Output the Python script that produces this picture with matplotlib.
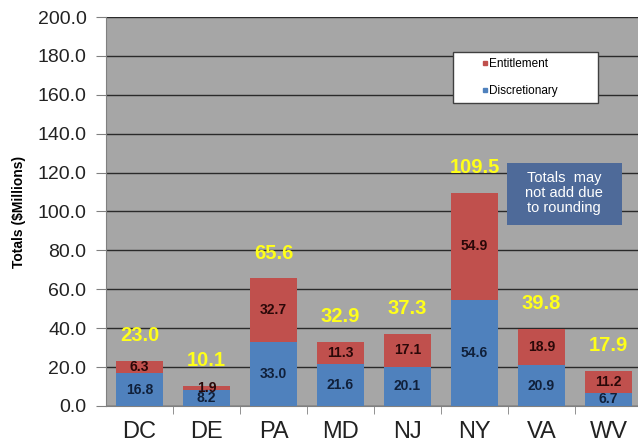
import matplotlib.pyplot as plt
from matplotlib.lines import Line2D
from matplotlib.patches import Rectangle

states = ['DC', 'DE', 'PA', 'MD', 'NJ', 'NY', 'VA', 'WV']
discretionary = [16.8, 8.2, 33.0, 21.6, 20.1, 54.6, 20.9, 6.7]
entitlement = [6.3, 1.9, 32.7, 11.3, 17.1, 54.9, 18.9, 11.2]
totals = [23.0, 10.1, 65.6, 32.9, 37.3, 109.5, 39.8, 17.9]

plt.rcParams['font.family'] = ['Liberation Sans', 'DejaVu Sans']

blue = '#4F81BD'
red = '#C0504D'

fig = plt.figure(figsize=(6.38, 4.48), dpi=100)
ax = fig.add_axes([0.166, 0.094, 0.834, 0.868])
ax.set_facecolor('#A6A6A6')

x = list(range(len(states)))
ax.bar(x, discretionary, width=0.7, color=blue, zorder=3)
ax.bar(x, entitlement, width=0.7, bottom=discretionary, color=red, zorder=3)

# segment values and yellow totals
for i in x:
    d, e = discretionary[i], entitlement[i]
    ax.text(i, d / 2, f'{d:.1f}', ha='center', va='center', fontsize=10,
            fontweight='bold', color='#10203a', zorder=4)
    ax.text(i, d + e / 2, f'{e:.1f}', ha='center', va='center', fontsize=10,
            fontweight='bold', color='#2a0808', zorder=4)
    ax.text(i, totals[i] + 13, f'{totals[i]:.1f}', ha='center', va='center',
            fontsize=14.5, fontweight='bold', color='#FFFF1A', zorder=4)

ax.set_ylim(0, 200)
ax.set_yticks(range(0, 201, 20))
ax.set_yticklabels([f'{v:.1f}' for v in range(0, 201, 20)], fontsize=14,
                   color='#222222')
ax.yaxis.grid(True, color='#2a2a2a', linewidth=1.0, zorder=1)
ax.set_axisbelow(True)

ax.set_xlim(-0.5, 7.44)
ax.set_xticks(x)
ax.set_xticklabels(states, fontsize=17, color='#222222')
ax.tick_params(axis='x', which='major', length=0, pad=11)
ax.set_xticks([i + 0.5 for i in x[:-1]], minor=True)
ax.tick_params(axis='x', which='minor', length=6, color='#808080')
ax.tick_params(axis='y', length=7, color='#808080', pad=7)

for s in ['top', 'right']:
    ax.spines[s].set_visible(False)
for s in ['left', 'bottom']:
    ax.spines[s].set_color('#808080')

ax.set_ylabel('Totals ($Millions)', fontsize=10, fontweight='bold', labelpad=8)

handles = [
    Line2D([], [], marker='s', linestyle='', color=red, markersize=3),
    Line2D([], [], marker='s', linestyle='', color=blue, markersize=3),
]
leg = ax.legend(handles, ['Entitlement', 'Discretionary'], loc='upper left',
                bbox_to_anchor=(0.652, 0.91, 0.273, 0.0), mode='expand',
                fontsize=8.5, frameon=True, fancybox=False,
                handlelength=4.4, handletextpad=-1.8,
                borderpad=0.5, labelspacing=1.25, borderaxespad=0)
leg.get_frame().set_edgecolor('#404040')
leg.get_frame().set_facecolor('white')
leg.get_frame().set_alpha(1)
leg.get_frame().set_linewidth(1.0)

# note box
ax.add_patch(Rectangle((5.485, 93.1), 1.715, 31.8, facecolor='#4E6A99',
                       edgecolor='none', zorder=5))
ax.text(6.34, 109.5, 'Totals  may\nnot add due\nto rounding', ha='center',
        va='center', fontsize=10.5, color='white', linespacing=1.05, zorder=6)

fig.savefig('out.png', dpi=100)
